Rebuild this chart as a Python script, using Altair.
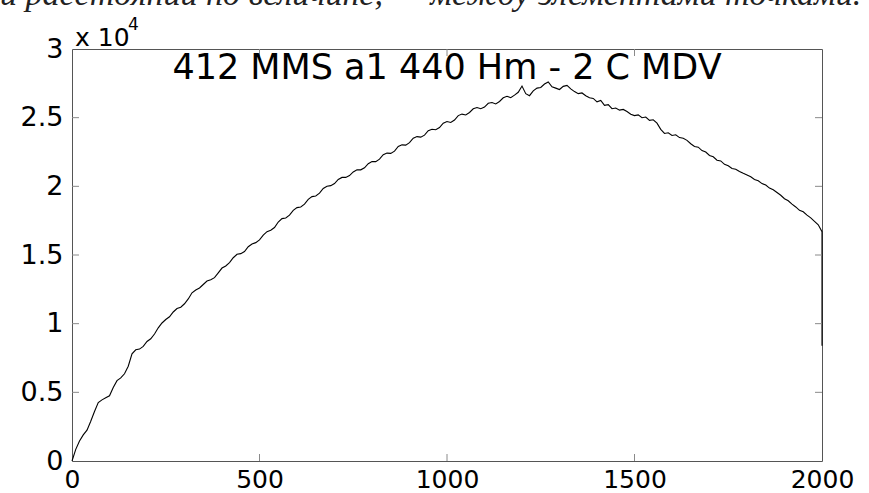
import altair as alt
import pandas as pd

# --- data ---
x_vals = list(range(0, 2001, 10)) + [2000]
y_vals = [
    0, 850, 1450, 1900, 2250, 2900, 3600, 4250, 4450, 4600,
    4750, 5350, 5850, 6050, 6350, 6900, 7800, 8100, 8150, 8350,
    8700, 8900, 9250, 9700, 10050, 10300, 10500, 10850, 11100, 11200,
    11450, 11800, 12250, 12450, 12600, 12850, 13100, 13200, 13350, 13700,
    14050, 14200, 14450, 14800, 15050, 15100, 15250, 15600, 15800, 15900,
    16100, 16450, 16700, 16800, 17000, 17400, 17650, 17700, 17900, 18250,
    18450, 18500, 18700, 19050, 19250, 19300, 19500, 19850, 20000, 20050,
    20200, 20500, 20650, 20650, 20780, 21050, 21200, 21200, 21350, 21650,
    21800, 21800, 21980, 22300, 22420, 22400, 22560, 22900, 23020, 23000,
    23180, 23500, 23620, 23580, 23730, 24050, 24160, 24120, 24280, 24600,
    24720, 24650, 24830, 25150, 25260, 25200, 25380, 25650, 25740, 25650,
    25770, 26050, 26100, 26000, 26180, 26450, 26560, 26450, 26640, 26850,
    27300, 26750, 26600, 26950, 27150, 27200, 27450, 27600, 27250, 27150,
    27050, 27280, 27350, 27100, 26900, 26750, 26800, 26600, 26450, 26400,
    26150, 26250, 25900, 25950, 25650, 25700, 25550, 25600, 25450, 25250,
    25150, 25200, 25000, 25050, 24800, 24850, 24600, 24150, 23850, 23900,
    23700, 23750, 23550, 23500, 23350, 23100, 22900, 22850, 22600, 22500,
    22250, 22150, 21900, 21850, 21600, 21500, 21300, 21250, 21080, 20950,
    20830, 20700, 20500, 20400, 20200, 20100, 19870, 19750, 19550, 19350,
    19100, 18950, 18700, 18500, 18250, 18150, 17900, 17700, 17450, 17200,
    16700, 8400,
]
y_ticks = [5000, 10000, 15000, 20000, 25000]
x_ticks = [500, 1000, 1500]
title_text = "412 MMS a1 440 Hm  - 2 C MDV"
top_text = "и  расстояний  по  величине,  —  между элементами точками."

W, H = 750, 412

df = pd.DataFrame({"x": x_vals, "y": y_vals, "i": list(range(len(x_vals)))})
dyt = pd.DataFrame({"y": y_ticks})
dxt = pd.DataFrame({"x": x_ticks})

xscale = alt.Scale(domain=[0, 2000], nice=False, zero=False)
yscale = alt.Scale(domain=[0, 30000], nice=False)

line = alt.Chart(df).mark_line(color="black", strokeWidth=1.1).encode(
    x=alt.X("x:Q", scale=xscale, title=None,
            axis=alt.Axis(values=[0, 500, 1000, 1500, 2000],
                          labelExpr="datum.value + ''")),
    y=alt.Y("y:Q", scale=yscale, title=None,
            axis=alt.Axis(values=[0, 5000, 10000, 15000, 20000, 25000, 30000],
                          labelExpr="datum.value / 10000 + ''")),
    order="i:Q",
)

tick_col = "#8a8a8a"
left_ticks = alt.Chart(dyt).mark_rule(color=tick_col).encode(
    y=alt.Y("y:Q", scale=yscale, title=None), x=alt.value(0), x2=alt.value(7))
right_ticks = alt.Chart(dyt).mark_rule(color=tick_col).encode(
    y=alt.Y("y:Q", scale=yscale, title=None), x=alt.value(W - 7), x2=alt.value(W))
bot_ticks = alt.Chart(dxt).mark_rule(color=tick_col).encode(
    x=alt.X("x:Q", scale=xscale, title=None), y=alt.value(H), y2=alt.value(H - 7))
top_ticks = alt.Chart(dxt).mark_rule(color=tick_col).encode(
    x=alt.X("x:Q", scale=xscale, title=None), y=alt.value(0), y2=alt.value(7))

title = alt.Chart().mark_text(
    text=title_text, font="DejaVu Sans", fontSize=35, color="black",
    align="center", baseline="alphabetic").encode(x=alt.value(W / 2), y=alt.value(30))

mult = alt.Chart().mark_text(
    text="x 10", font="DejaVu Sans", fontSize=25, color="black",
    align="left", baseline="alphabetic").encode(x=alt.value(3), y=alt.value(-3))
sup = alt.Chart().mark_text(
    text="4", font="DejaVu Sans", fontSize=17, color="black",
    align="left", baseline="alphabetic").encode(x=alt.value(56), y=alt.value(-19))

top = alt.Chart().mark_text(
    text=top_text, font="Liberation Serif", fontSize=34, fontStyle="italic", color="#222",
    align="left", baseline="alphabetic").encode(x=alt.value(-72), y=alt.value(-44))

chart = alt.layer(
    line, left_ticks, right_ticks, bot_ticks, top_ticks, title, mult, sup, top
).properties(
    width=W, height=H,
    autosize=alt.AutoSizeParams(type="none"),
    padding={"left": 72, "top": 49, "right": 47, "bottom": 32},
    background="white",
).configure_view(
    stroke="#555", strokeWidth=1
).configure_axis(
    domain=False, grid=False, ticks=False, tickSize=0,
    labelFont="DejaVu Sans", labelColor="black",
    labelOverlap=False, labelFlush=False,
).configure_axisX(
    labelPadding=6, labelBaseline="top", labelFontSize=25,
).configure_axisY(
    labelPadding=9, labelFontSize=27,
)

chart.save("out.html", embed_options={"renderer": "svg", "actions": False})
